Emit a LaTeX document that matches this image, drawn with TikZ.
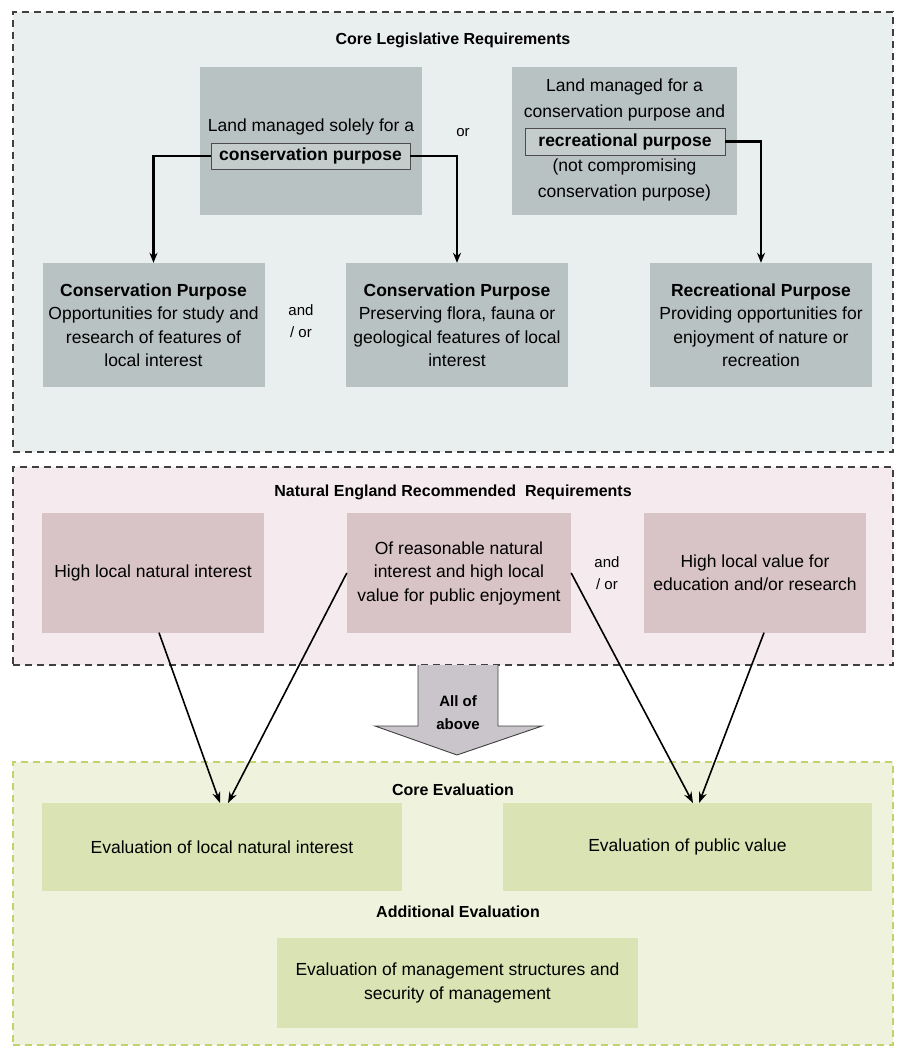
\documentclass[tikz,border=0pt]{standalone}
\usepackage{fontspec}
\setmainfont{Liberation Sans}
\usepackage{xcolor}
\usetikzlibrary{arrows.meta}
\definecolor{legis-fill}{HTML}{E9EEEE}
\definecolor{legis-node}{HTML}{B9C2C2}
\definecolor{legis-inner}{HTML}{C4CCCC}
\definecolor{ne-fill}{HTML}{F5EBEE}
\definecolor{ne-node}{HTML}{D8C3C7}
\definecolor{eval-fill}{HTML}{EFF3DD}
\definecolor{eval-node}{HTML}{D9E3B4}
\definecolor{eval-dash}{HTML}{C3D26C}
\definecolor{block-fill}{HTML}{C9C5CA}
\tikzset{
    zone-box/.style = {draw=#1, dash pattern=on 7pt off 5pt, line width=1.2pt, rectangle, inner sep=0pt},
    zone-title/.style = {font=\fontsize{16}{20}\selectfont\bfseries},
    plain-box/.style = {rectangle, inner sep=0pt, align=center, font=\fontsize{17.5}{23.5}\selectfont},
    legis-box/.style = {plain-box, fill=legis-node, minimum width=222pt, minimum height=124pt},
    ne-box/.style = {plain-box, fill=ne-node, minimum width=222pt, minimum height=120pt},
    eval-box/.style = {plain-box, fill=eval-node},
    key-word/.style = {draw=black!70, fill=legis-inner, line width=0.8pt, inner sep=0pt, minimum height=26pt, font=\fontsize{17.5}{23.5}\selectfont\bfseries},
    joiner/.style = {align=center, font=\fontsize{15}{22}\selectfont},
    flow-arrow/.style = {line width=2.3pt, -{Stealth[length=10pt,width=8pt]}},
    link-arrow/.style = {line width=1.6pt, -{Stealth[length=11pt,width=8pt]}},
}
\begin{document}
\begin{tikzpicture}[x=1pt, y=-1pt]
\useasboundingbox (0,0) rectangle (898,1048);

\node[zone-box=black!75, fill=legis-fill, minimum width=880pt, minimum height=440pt] (legis-zone) at (453,232) {};
\node[zone-box=black!75, fill=ne-fill, minimum width=880pt, minimum height=198pt] (ne-zone) at (453,566) {};
\node[zone-box=eval-dash, fill=eval-fill, minimum width=880pt, minimum height=283pt] (eval-zone) at (453,903.5) {};

\node[zone-title] (legis-title) at (453,40) {Core Legislative Requirements};
\node[zone-title] (ne-title) at (453,492) {Natural England Recommended \ Requirements};
\node[zone-title] (eval-title) at (453,790) {Core Evaluation};
\node[zone-title] (extra-title) at (458,912) {Additional Evaluation};

\node[legis-box, minimum height=148pt] (solely) at (311,141) {};
\node[plain-box] at (311,127) {Land managed solely for a};
\node[key-word, minimum width=199pt] (solely-key) at (310.5,156) {conservation purpose};

\node[legis-box, minimum width=225pt, minimum height=148pt] (both) at (624.5,141) {};
\node[plain-box, font=\fontsize{17.5}{26}\selectfont] at (624.5,100) {Land managed for a\\conservation purpose and};
\node[key-word, minimum width=200pt, minimum height=27pt] (both-key) at (625,141.5) {recreational purpose};
\node[plain-box, font=\fontsize{17.5}{26}\selectfont] at (624.5,180) {(not compromising\\conservation purpose)};

\node[joiner] (or-label) at (463,133) {or};

\node[legis-box] (study) at (153.5,325) {\textbf{Conservation Purpose}\\Opportunities for study and\\research of features of\\local interest};
\node[legis-box] (flora) at (457,325) {\textbf{Conservation Purpose}\\Preserving flora, fauna or\\geological features of local\\interest};
\node[legis-box] (recreation) at (761,325) {\textbf{Recreational Purpose}\\Providing opportunities for\\enjoyment of nature or\\recreation};
\node[joiner] (study-or) at (301,321) {and\\/ or};

\draw[flow-arrow] (solely-key.west) -| (study.north);
\draw[flow-arrow] (solely-key.east) -| (flora.north);
\draw[flow-arrow] (both-key.east) -| (recreation.north);

\node[ne-box] (natural) at (153,572.5) {High local natural interest};
\node[ne-box, minimum width=224pt] (reasonable) at (459,573) {Of reasonable natural\\interest and high local\\value for public enjoyment};
\node[ne-box] (education) at (755,572.5) {High local value for\\education and/or research};
\node[joiner] (ne-or) at (607,573) {and\\/ or};

\fill[block-fill] (418,665) -- (498,665) -- (498,726) -- (542,726) -- (457,755) -- (375,726) -- (418,726) -- cycle;
\draw[black!75, line width=0.9pt] (418,665) -- (418,726) -- (375,726) -- (457,755) -- (542,726) -- (498,726) -- (498,665);
\node[joiner, font=\fontsize{15}{23}\selectfont\bfseries] (all-above) at (458,713) {All of\\above};

\node[eval-box, minimum width=360pt, minimum height=88pt] (eval-natural) at (222,847) {Evaluation of local natural interest};
\node[eval-box, minimum width=369pt, minimum height=88pt] (eval-public) at (687.5,847) {Evaluation of public value};
\node[eval-box, minimum width=361pt, minimum height=90pt] (eval-manage) at (457.5,983) {Evaluation of management structures and\\security of management};

\coordinate (natural-in) at (220,803);
\coordinate (reasonable-in) at (228,803);
\coordinate (public-in) at (693,803);
\coordinate (education-in) at (699,803);

\draw[link-arrow] ([xshift=6pt]natural.south) -- (natural-in);
\draw[link-arrow] (reasonable.west) -- (reasonable-in);
\draw[link-arrow] (reasonable.east) -- (public-in);
\draw[link-arrow] ([xshift=9pt]education.south) -- (education-in);
\end{tikzpicture}
\end{document}
